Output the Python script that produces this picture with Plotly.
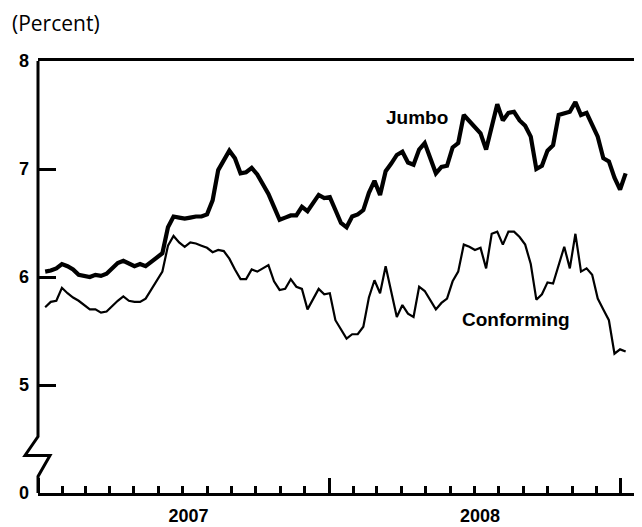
import plotly.graph_objects as go
import pandas as pd

# Weekly observations (first week of Jan 2007 through first week of Jan 2009)
week_start = "2007-01-10"

jumbo = [6.05, 6.06, 6.08, 6.12, 6.10, 6.07, 6.02, 6.01, 6.00, 6.02,
         6.01, 6.03, 6.08, 6.13, 6.15, 6.12, 6.10, 6.12, 6.10, 6.14,
         6.18, 6.22, 6.46, 6.56, 6.55, 6.54, 6.55, 6.56, 6.56, 6.58,
         6.71, 6.99, 7.08, 7.17, 7.10, 6.96, 6.97, 7.01, 6.95, 6.86,
         6.77, 6.65, 6.53, 6.55, 6.57, 6.57, 6.65, 6.61, 6.68, 6.76,
         6.73, 6.74, 6.62, 6.50, 6.46, 6.56, 6.58, 6.62, 6.78, 6.89,
         6.76, 6.98, 7.05, 7.13, 7.16, 7.06, 7.04, 7.18, 7.24, 7.10,
         6.96, 7.02, 7.03, 7.20, 7.24, 7.50, 7.44, 7.38, 7.33, 7.18,
         7.38, 7.60, 7.45, 7.52, 7.53, 7.45, 7.40, 7.30, 7.00, 7.03,
         7.17, 7.22, 7.50, 7.52, 7.53, 7.62, 7.50, 7.52, 7.40, 7.30,
         7.10, 7.07, 6.92, 6.81, 6.96]

conforming = [5.72, 5.77, 5.78, 5.90, 5.85, 5.81, 5.78, 5.74, 5.70, 5.70,
              5.67, 5.68, 5.73, 5.78, 5.82, 5.78, 5.77, 5.77, 5.80, 5.88,
              5.96, 6.05, 6.29, 6.38, 6.32, 6.28, 6.32, 6.31, 6.29, 6.27,
              6.23, 6.25, 6.24, 6.17, 6.07, 5.98, 5.98, 6.07, 6.05, 6.08,
              6.11, 5.96, 5.88, 5.89, 5.98, 5.91, 5.89, 5.70, 5.80, 5.89,
              5.84, 5.85, 5.60, 5.52, 5.43, 5.47, 5.47, 5.54, 5.81, 5.97,
              5.85, 6.10, 5.88, 5.63, 5.74, 5.66, 5.63, 5.91, 5.87, 5.78,
              5.70, 5.76, 5.80, 5.96, 6.05, 6.30, 6.28, 6.25, 6.27, 6.08,
              6.40, 6.42, 6.30, 6.42, 6.42, 6.37, 6.30, 6.12, 5.79, 5.84,
              5.95, 5.94, 6.12, 6.28, 6.08, 6.40, 6.05, 6.08, 6.02, 5.80,
              5.70, 5.60, 5.29, 5.33, 5.31]

y_tickvals = [4, 5, 6, 7, 8]
y_ticktext = ["0", "5", "6", "7", "8"]

dates = pd.date_range(week_start, periods=len(jumbo), freq="7D")

fig = go.Figure()
fig.add_trace(go.Scatter(x=dates, y=conforming, mode="lines", name="Conforming",
                         line=dict(color="black", width=2.2)))
fig.add_trace(go.Scatter(x=dates, y=jumbo, mode="lines", name="Jumbo",
                         line=dict(color="black", width=4.2)))

bold = dict(family="Liberation Sans, Arial, sans-serif", size=18, color="black", weight="bold")

# The page body has an 8px default margin, so the figure is sized/offset to compensate
fig.update_layout(
    width=634, height=519,
    margin=dict(l=30, r=2, t=53, b=34),
    paper_bgcolor="white", plot_bgcolor="white",
    showlegend=False,
    xaxis=dict(
        type="date", range=["2007-01-01", "2009-01-25"], automargin=False,
        tick0="2007-01-01", dtick="M12", tickformat="%Y",
        ticklabelmode="period", ticklabelshift=5,
        ticks="inside", ticklen=15, tickwidth=2.5, tickcolor="black",
        showline=True, linewidth=3, linecolor="black", mirror=True,
        showgrid=False, zeroline=False,
        minor=dict(tick0="2007-01-01", dtick="M1", ticks="inside", ticklen=7,
                   tickwidth=2.5, tickcolor="black", showgrid=False),
        tickfont=bold, ticklabelstandoff=4,
    ),
    yaxis=dict(
        range=[4, 8], tickvals=y_tickvals, ticktext=y_ticktext, automargin=False,
        ticks="inside", ticklen=18, tickwidth=2.5, tickcolor="black",
        showline=False, showgrid=False, zeroline=False,
        tickfont=bold, ticklabelstandoff=8,
    ),
)

# Left axis line with axis-break zigzag
fig.add_shape(type="path", xref="paper", yref="y",
              path="M 0,8 L 0,4.523 L -0.0216,4.347 L 0.0199,4.347 L 0,4.153 L 0,4",
              line=dict(color="black", width=3), fillcolor="rgba(0,0,0,0)", layer="above")

fig.add_annotation(text="(Percent)", xref="paper", yref="paper",
                   x=-0.0465, y=1.088, xanchor="left", yanchor="middle", showarrow=False,
                   font=dict(family="Open Sans, Noto Sans, sans-serif", size=21, color="black"))
fig.add_annotation(text="Jumbo", x="2008-04-20", y=7.48, xref="x", yref="y", showarrow=False,
                   font=dict(family="Liberation Sans, Arial, sans-serif", size=19, color="black", weight="bold"))
fig.add_annotation(text="Conforming", x="2008-08-23", y=5.61, xref="x", yref="y", showarrow=False,
                   font=dict(family="Liberation Sans, Arial, sans-serif", size=19, color="black", weight="bold"))

fig.write_html("out.html")
